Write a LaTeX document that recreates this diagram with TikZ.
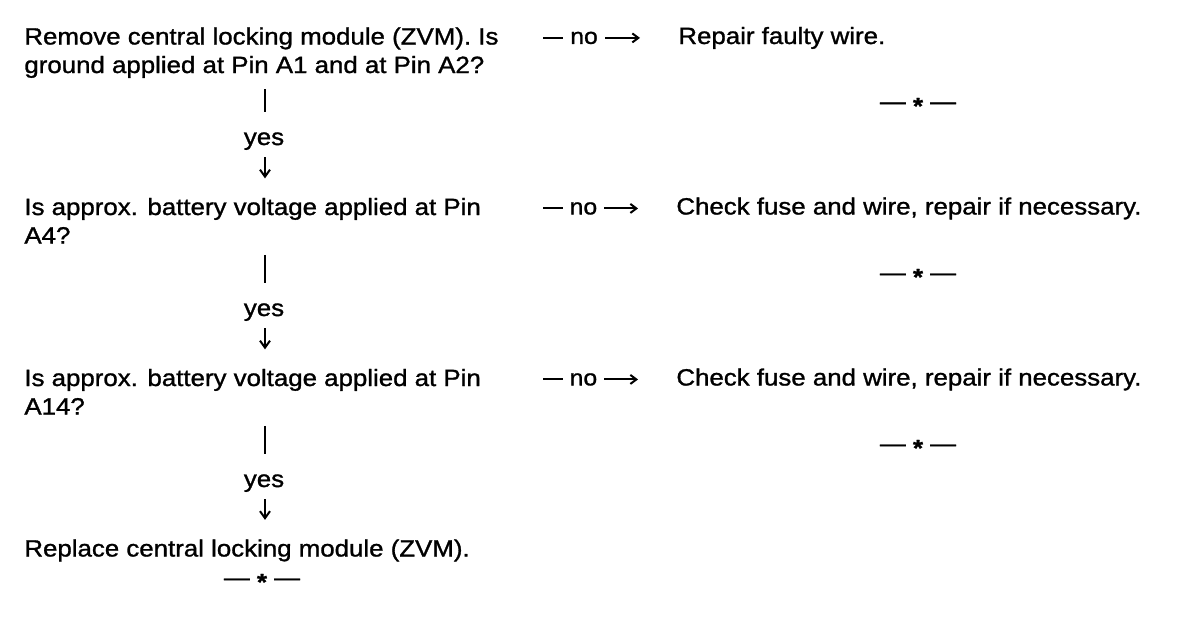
\documentclass[tikz,border=0pt]{standalone}
\usepackage{fontspec}
\setmainfont[FakeStretch=1.1, FakeBold=1.2]{Liberation Sans}
\usetikzlibrary{arrows.meta}

\newcommand{\stopmark}{\textemdash\ \raisebox{-0.2em}{\bfseries *}\ \textemdash}

\begin{document}
\begin{tikzpicture}[x=0.5pt, y=-0.5pt,
  txt/.style={inner sep=0pt, anchor=base west, align=left,
    font=\fontsize{11.75}{14.25}\selectfont},
  yeslbl/.style={inner sep=0pt, anchor=base, font=\fontsize{11.75}{14.25}\selectfont},
  nolbl/.style={fill=white, inner xsep=3.5pt, inner ysep=0pt,
    font=\fontsize{11.25}{13}\selectfont},
  bar/.style={line width=1.3pt, shorten <=5.5pt, shorten >=9.9pt},
  down/.style={line width=1pt, -{Straight Barb[length=3.5pt,width=5pt]},
    shorten <=3.6pt, shorten >=9.6pt},
  side/.style={line width=1pt, -{Straight Barb[length=3pt,width=4.5pt]},
    shorten >=19pt},
  endmark/.style={inner sep=0pt, font=\fontsize{11.75}{14.25}\selectfont}]
  \useasboundingbox (0,0) rectangle (1200,618);
  \coordinate (ycol) at (265,0);
  \coordinate (nocol) at (543,0);

  \node[txt] (q1) at (24,73)
    {Remove central locking module (ZVM). Is\\ground applied at Pin A1 and at Pin A2?};
  \node[txt] (q2) at (24,243.5)
    {Is approx. battery voltage applied at Pin\\A4?};
  \node[txt] (q3) at (24,414.5)
    {Is approx. battery voltage applied at Pin\\A14?};
  \node[txt] (q4) at (24,556.5) {Replace central locking module (ZVM).};

  \node[yeslbl] (yes1) at (264,145) {yes};
  \node[yeslbl] (yes2) at (264,316) {yes};
  \node[yeslbl] (yes3) at (264,487) {yes};

  \node[txt] (a1) at (678,44) {Repair faulty wire.};
  \node[txt] (a2) at (676,214.5) {Check fuse and wire, repair if necessary.};
  \node[txt] (a3) at (676,385.5) {Check fuse and wire, repair if necessary.};

  \node[endmark] (e1) at (918,106) {\stopmark};
  \node[endmark] (e2) at (918,277) {\stopmark};
  \node[endmark] (e3) at (918,448) {\stopmark};
  \node[endmark] (e4) at (262,582) {\stopmark};

  \foreach \i/\j in {1/2,2/3,3/4}{
    \draw[bar] (q\i.south -| ycol) -- (yes\i.north -| ycol);
    \draw[down] (yes\i.south -| ycol) -- (q\j.north -| ycol);
  }
  \draw[side] (a1.west -| nocol) -- node[nolbl, pos=0.304] (n1) {no} (a1.west);
  \draw[side] (a2.west -| nocol) -- node[nolbl, pos=0.304] (n2) {no} (a2.west);
  \draw[side] (a3.west -| nocol) -- node[nolbl, pos=0.304] (n3) {no} (a3.west);
\end{tikzpicture}
\end{document}
